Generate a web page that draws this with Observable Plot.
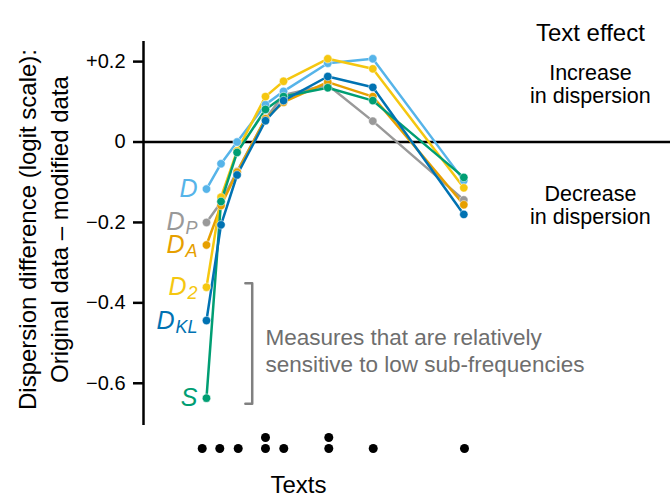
<!DOCTYPE html>
<html><head><meta charset="utf-8">
<script src="https://cdn.jsdelivr.net/npm/d3@7"></script>
<script src="https://cdn.jsdelivr.net/npm/@observablehq/plot@0.6"></script>
<style>
body{margin:0;background:#fff;}
#chart svg{display:block;}
</style></head><body><div id="chart"></div>
<script>
const FONT = "'Liberation Sans', Arial, Helvetica, sans-serif";

// x position of each measurement point (arbitrary text-position units)
const pointX = [11.95, 14.71, 17.76, 23.15, 26.57, 34.97, 43.51, 60.78];
// positions of individual texts (dot strip below the axis)
const textPos = [11.14, 14.48, 17.97, 23.15, 23.15, 26.62, 35.16, 35.16, 43.59, 60.91];

const measures = ["D_P", "D_A", "D", "D_2", "S", "D_KL"];
const colors   = ["#999999", "#E69F00", "#56B4E9", "#F5C710", "#009E73", "#0072B2"];

const D_P  = [-0.200, -0.150, -0.073, 0.058, 0.117, 0.142, 0.052, -0.144];
const D_A  = [-0.256, -0.158, -0.075, 0.058, 0.099, 0.149, 0.113, -0.156];
const D    = [-0.117, -0.054,  0.000, 0.093, 0.126, 0.196, 0.207, -0.096];
const D_2  = [-0.361, -0.137, -0.022, 0.113, 0.151, 0.207, 0.182, -0.114];
const S    = [-0.637, -0.148, -0.026, 0.081, 0.113, 0.135, 0.103, -0.088];
const D_KL = [-0.444, -0.206, -0.082, 0.053, 0.103, 0.163, 0.136, -0.180];

const yTicks = [-0.6, -0.4, -0.2, 0, 0.2];

const seriesValues = [D_P, D_A, D, D_2, S, D_KL];
const rows = [];
measures.forEach((m, i) => seriesValues[i].forEach((v, j) => rows.push({measure: m, x: pointX[j], y: v, j})));
const firsts = rows.filter(r => r.j === 0);

const fmt = d => d === 0 ? "0" : (d > 0 ? "+" : "\u2212") + Math.abs(d).toFixed(1);

const bx = 20.63, bTop = -0.351, bBot = -0.651, bw = 1.3;
const bracket = [{x: bx - bw, y: bTop}, {x: bx, y: bTop}, {x: bx, y: bBot}, {x: bx - bw, y: bBot}];

const main = Plot.plot({
  width: 670, height: 430,
  marginLeft: 143, marginRight: 0, marginTop: 41, marginBottom: 5,
  style: {fontFamily: FONT, fontSize: "20px", color: "black", background: "white", overflow: "visible"},
  x: {domain: [0, 100], axis: null},
  y: {domain: [-0.705, 0.25], axis: null},
  color: {domain: measures, range: colors},
  marks: [
    Plot.ruleY([0], {stroke: "black", strokeWidth: 2.5}),
    Plot.ruleX([0], {stroke: "black", strokeWidth: 2.5}),
    Plot.axisY({ticks: yTicks, tickSize: 10, tickPadding: 8, tickFormat: fmt, strokeWidth: 2.5, label: null, fill: "black", stroke: "black"}),
    Plot.text(["Dispersion difference (logit scale):\nOriginal data \u2013 modified data"],
      {frameAnchor: "left", textAnchor: "middle", rotate: -90, dx: -101.5, dy: -4, fontSize: 24, lineHeight: 1.3, fill: "black"}),
    Plot.line(rows, {x: "x", y: "y", stroke: "measure", z: "measure", strokeWidth: 2.5}),
    Plot.dot(rows, {x: "x", y: "y", fill: "measure", r: 4.2, stroke: "white", strokeWidth: 0.5}),
    Plot.text(firsts, {x: "x", y: "y", text: "measure", fill: "measure", textAnchor: "end", dx: -9, fontSize: 25, fontStyle: "italic"}),
    Plot.line(bracket, {x: "x", y: "y", stroke: "#808080", strokeWidth: 2.5}),
    Plot.text(["Measures that are relatively\nsensitive to low sub-frequencies"],
      {x: 23.15, y: -0.517, textAnchor: "start", fontSize: 22.5, lineHeight: 1.19, fill: "#6e6e6e"}),
    Plot.text(["Text effect"], {x: 84.8, frameAnchor: "top", dy: -18, fontSize: 24, fill: "black"}),
    Plot.text(["Increase\nin dispersion"], {x: 84.8, y: 0.145, fontSize: 21.5, lineHeight: 1.08, fill: "black"}),
    Plot.text(["Decrease\nin dispersion"], {x: 84.8, y: -0.156, fontSize: 21.5, lineHeight: 1.08, fill: "black"})
  ]
});

// subscripts for measure labels
main.querySelectorAll("text").forEach(t => {
  if (t.children.length === 0 && t.textContent.includes("_")) {
    const [base, sub] = t.textContent.split("_");
    t.textContent = base;
    const ts = document.createElementNS("http://www.w3.org/2000/svg", "tspan");
    ts.setAttribute("font-size", "18");
    ts.setAttribute("dy", "4");
    ts.setAttribute("dx", "1");
    ts.textContent = sub;
    t.appendChild(ts);
  }
});

const strip = Plot.plot({
  width: 670, height: 74,
  marginLeft: 143, marginRight: 0, marginTop: 0, marginBottom: 49.5,
  style: {fontFamily: FONT, fontSize: "20px", color: "black", background: "white", overflow: "visible"},
  x: {domain: [0, 100], axis: null},
  marks: [
    Plot.dot(textPos, Plot.dodgeY({anchor: "bottom", padding: 2, x: d => d, r: 4.5, fill: "black"})),
    Plot.text(["Texts"], {x: 29.4, frameAnchor: "bottom", dy: 37.8, fontSize: 24, fill: "black"})
  ]
});

const el = document.getElementById("chart");
el.appendChild(main);
el.appendChild(strip);
</script></body></html>
